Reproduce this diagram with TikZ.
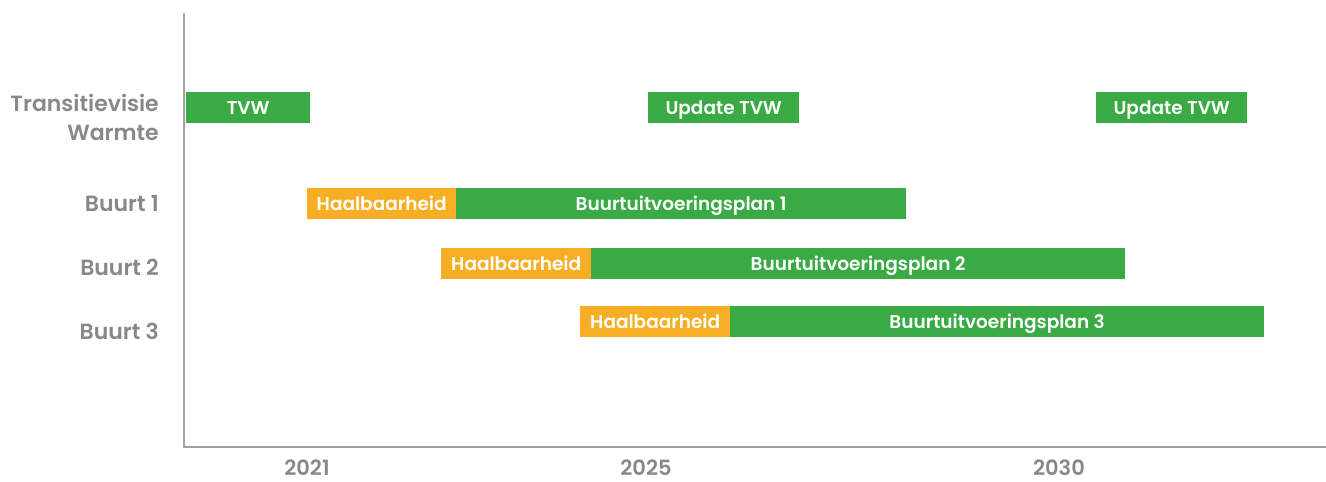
\documentclass[tikz,border=0pt]{standalone}
\usepackage{fontspec}
\setmainfont{Poppins}[BoldFont={Poppins SemiBold}]
\usetikzlibrary{positioning}

\definecolor{plangreen}{HTML}{39AA44}
\definecolor{feasorange}{HTML}{F7AE24}
\definecolor{labelgray}{HTML}{888888}
\definecolor{axisgray}{HTML}{A0A0A0}

\begin{document}
\begin{tikzpicture}[
  x=1pt,y=-1pt,
  font=\fontsize{18.5}{22}\selectfont\bfseries,
  bar/.style={rectangle,inner sep=0pt,minimum height=31pt,text height=14pt,text depth=0pt,
              text=white,anchor=west},
  tvwbar/.style={bar,fill=plangreen},
  feas/.style={bar,fill=feasorange,minimum width=150pt},
  plan/.style={bar,fill=plangreen},
  row/.style={text=labelgray,font=\fontsize{22}{29}\selectfont\bfseries,anchor=east,
              align=right,inner sep=0pt},
  year/.style={text=labelgray,font=\fontsize{21}{24}\selectfont\bfseries,inner sep=0pt},
  axis/.style={draw=axisgray,line width=2.5pt},
]
\useasboundingbox (0,0) rectangle (1326,482);

% time axis
\coordinate (top) at (184,13);
\coordinate (origin) at (184,447);
\coordinate (far) at (1326,447);
\draw[axis] (top) -- (origin) -- (far);

% row labels on the left
\node[row] (lbltvw) at (159,117.5) {Transitievisie\\Warmte};
\node[row] (lblb1) at (159,204) {Buurt 1};
\node[row] (lblb2) at (159,267) {Buurt 2};
\node[row] (lblb3) at (159,331) {Buurt 3};

% transitievisie and its updates
\node[tvwbar,minimum width=124pt] (tvw) at (186,107.5) {TVW};
\node[tvwbar,minimum width=151pt] (upd1) at (648,107.5) {Update TVW};
\node[tvwbar,minimum width=151pt] (upd2) at (1096,107.5) {Update TVW};

% per buurt: feasibility first, then the plan
\node[feas,minimum width=149pt] (hb1) at (307,203.5) {Haalbaarheid};
\node[plan,minimum width=450pt,right=-0.5pt of hb1] (bup1) {Buurtuitvoeringsplan 1};

\node[feas] (hb2) at (441,263.5) {Haalbaarheid};
\node[plan,minimum width=534pt,right=-0.5pt of hb2] (bup2) {Buurtuitvoeringsplan 2};

\node[feas] (hb3) at (580,321.5) {Haalbaarheid};
\node[plan,minimum width=534pt,right=-0.5pt of hb3] (bup3) {Buurtuitvoeringsplan 3};

% years under the axis
\node[year] (y2021) at (307,468) {2021};
\node[year] (y2025) at (646,468) {2025};
\node[year] (y2030) at (1059,468) {2030};
\end{tikzpicture}
\end{document}
